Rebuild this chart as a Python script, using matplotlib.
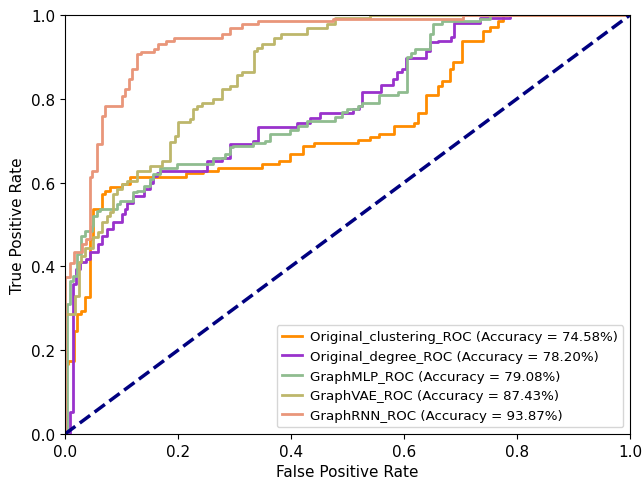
import matplotlib
matplotlib.use("Agg")
import matplotlib.pyplot as plt

# ROC step points: at each fpr the tpr jumps to the given value
clust_fpr = [0, 0, 0.006, 0.016, 0.022, 0.029, 0.035, 0.044, 0.05, 0.065, 0.071, 0.08, 0.1, 0.115,
             0.214, 0.245, 0.271, 0.348, 0.378, 0.398, 0.421, 0.44, 0.519, 0.539, 0.555, 0.583,
             0.618, 0.624, 0.639, 0.66, 0.668, 0.681, 0.687, 0.702, 0.739, 0.752, 0.767, 0.775, 1]
clust_tpr = [0, 0.167, 0.175, 0.247, 0.286, 0.294, 0.326, 0.465, 0.537, 0.573, 0.581, 0.589, 0.597, 0.613,
             0.622, 0.628, 0.636, 0.644, 0.652, 0.668, 0.687, 0.694, 0.702, 0.708, 0.716, 0.734,
             0.742, 0.766, 0.808, 0.83, 0.843, 0.871, 0.889, 0.937, 0.963, 0.971, 0.986, 1.0, 1.0]

deg_fpr = [0, 0.008, 0.015, 0.019, 0.027, 0.038, 0.044, 0.059, 0.065, 0.074, 0.085, 0.1, 0.106, 0.109,
           0.121, 0.139, 0.15, 0.156, 0.162, 0.168, 0.251, 0.277, 0.292, 0.333, 0.342, 0.41, 0.434,
           0.451, 0.51, 0.52, 0.525, 0.56, 0.581, 0.587, 0.596, 0.604, 0.639, 0.646, 0.661, 0.683,
           0.688, 0.735, 0.788, 1]
deg_tpr = [0, 0.052, 0.358, 0.394, 0.41, 0.418, 0.434, 0.453, 0.473, 0.489, 0.505, 0.525, 0.537, 0.551,
           0.569, 0.585, 0.6, 0.616, 0.624, 0.628, 0.652, 0.658, 0.692, 0.7, 0.733, 0.742, 0.755,
           0.766, 0.776, 0.784, 0.816, 0.833, 0.847, 0.863, 0.871, 0.897, 0.915, 0.936, 0.939, 0.947,
           0.981, 0.992, 1.0, 1.0]

mlp_fpr = [0, 0.004, 0.009, 0.015, 0.022, 0.029, 0.035, 0.047, 0.05, 0.056, 0.062, 0.092, 0.097, 0.121,
           0.127, 0.139, 0.15, 0.156, 0.168, 0.198, 0.262, 0.283, 0.292, 0.298, 0.333, 0.354, 0.363,
           0.398, 0.413, 0.428, 0.478, 0.49, 0.499, 0.519, 0.525, 0.555, 0.59, 0.605, 0.612, 0.62,
           0.646, 0.652, 0.667, 0.735, 0.752, 1]
mlp_tpr = [0, 0.31, 0.366, 0.378, 0.43, 0.473, 0.485, 0.497, 0.521, 0.533, 0.537, 0.549, 0.557, 0.577,
           0.581, 0.593, 0.609, 0.621, 0.634, 0.644, 0.658, 0.668, 0.684, 0.688, 0.695, 0.7, 0.716,
           0.726, 0.734, 0.748, 0.756, 0.768, 0.776, 0.784, 0.791, 0.808, 0.816, 0.899, 0.909, 0.92,
           0.955, 0.978, 0.985, 0.99, 1.0, 1.0]

vae_fpr = [0, 0, 0.018, 0.024, 0.029, 0.035, 0.05, 0.059, 0.065, 0.074, 0.08, 0.085, 0.092, 0.1, 0.109,
           0.127, 0.15, 0.171, 0.186, 0.195, 0.2, 0.221, 0.227, 0.234, 0.242, 0.262, 0.277, 0.292,
           0.305, 0.313, 0.335, 0.34, 0.348, 0.37, 0.383, 0.428, 0.463, 0.478, 0.54, 1]
vae_tpr = [0, 0.286, 0.33, 0.41, 0.425, 0.445, 0.469, 0.481, 0.505, 0.521, 0.531, 0.573, 0.585, 0.597, 0.605,
           0.628, 0.64, 0.652, 0.696, 0.712, 0.744, 0.752, 0.776, 0.784, 0.791, 0.8, 0.823, 0.831,
           0.856, 0.865, 0.913, 0.921, 0.931, 0.944, 0.955, 0.968, 0.979, 0.994, 1.0, 1.0]

rnn_fpr = [0, 0, 0.008, 0.016, 0.03, 0.037, 0.044, 0.047, 0.056, 0.065, 0.071, 0.101, 0.106, 0.113, 0.118,
           0.127, 0.134, 0.157, 0.164, 0.179, 0.193, 0.277, 0.292, 0.313, 0.342, 0.475, 0.704, 1]
rnn_tpr = [0, 0.374, 0.408, 0.434, 0.453, 0.465, 0.613, 0.628, 0.692, 0.758, 0.782, 0.806, 0.823, 0.847, 0.871,
           0.907, 0.912, 0.92, 0.931, 0.937, 0.945, 0.955, 0.969, 0.978, 0.986, 0.99, 1.0, 1.0]

curves = [
    (clust_fpr, clust_tpr, "darkorange", "Original_clustering_ROC (Accuracy = 74.58%)"),
    (deg_fpr, deg_tpr, "darkorchid", "Original_degree_ROC (Accuracy = 78.20%)"),
    (mlp_fpr, mlp_tpr, "darkseagreen", "GraphMLP_ROC (Accuracy = 79.08%)"),
    (vae_fpr, vae_tpr, "darkkhaki", "GraphVAE_ROC (Accuracy = 87.43%)"),
    (rnn_fpr, rnn_tpr, "darksalmon", "GraphRNN_ROC (Accuracy = 93.87%)"),
]

fig = plt.figure(figsize=(6.44, 4.81), dpi=100)
ax = fig.add_axes([65 / 644, 46 / 481, 565 / 644, 419 / 481])

for fpr, tpr, col, lab in curves:
    ax.step(fpr, tpr, where="post", color=col, lw=2, label=lab)

ax.plot([0, 1], [0, 1], color="navy", lw=2.5, linestyle="--")

ax.set_xlim(0.0, 1.0)
ax.set_ylim(0.0, 1.0)
ax.tick_params(labelsize=11)
ax.set_xlabel("False Positive Rate", fontsize=11)
ax.set_ylabel("True Positive Rate", fontsize=11)
ax.legend(loc="lower right", fontsize=9.6, handlelength=1.5, handletextpad=0.6,
          labelspacing=0.5)

fig.savefig("out.png", dpi=100)
